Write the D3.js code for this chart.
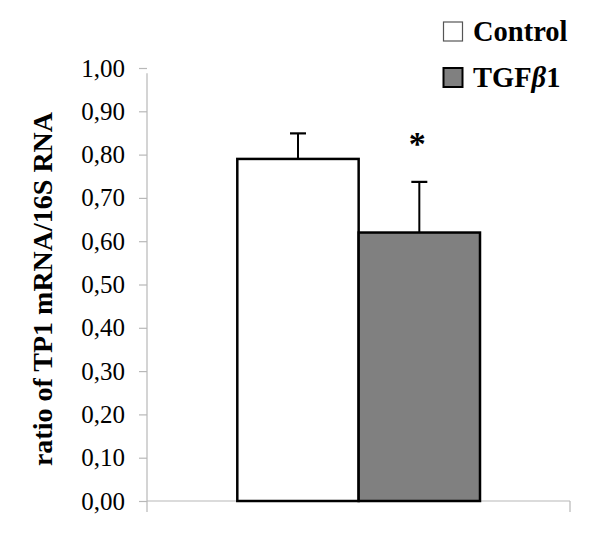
<!DOCTYPE html>
<html><head><meta charset="utf-8">
<script src="https://cdn.jsdelivr.net/npm/d3@7"></script>
<style>body{margin:0;background:#fff}svg{display:block}</style>
</head><body>
<svg id="c" width="600" height="544"></svg>
<script>
const categories = ["Control", "TGFβ1"];
const values = [0.79, 0.62];
const errorTops = [0.849, 0.737];
const colors = ["#ffffff", "#808080"];
const yTicks = [0,0.1,0.2,0.3,0.4,0.5,0.6,0.7,0.8,0.9,1.0];
const significant = [false, true];

const svg = d3.select("#c");
const font = "'Liberation Serif','Times New Roman',serif";
const y = d3.scaleLinear().domain([0,1]).range([501,68]);
const xAxisScale = d3.scaleLinear().domain([0,1]).range([147,570]);
const x = d3.scaleBand().domain(categories).range([237.3,480]).padding(0);
const axisColor = "#b8b8b8";

// y axis
const yAxis = d3.axisLeft(y).tickValues(yTicks).tickSize(8).tickPadding(14)
  .tickFormat(d => d3.format(".2f")(d).replace(".", ","));
const gy = svg.append("g").attr("transform","translate(147,0)").call(yAxis);
gy.select(".domain").remove();
gy.append("line").attr("x1",0).attr("x2",0).attr("y1",y(0.988)).attr("y2",y(0)).attr("stroke",axisColor).attr("stroke-width",1.2);
gy.selectAll(".tick line").attr("stroke",axisColor).attr("stroke-width",1.2);
gy.selectAll(".tick text").attr("fill","#000").style("font-family",font).style("font-size","25px");

// x axis
const gx = svg.append("g");
gx.append("line").attr("x1",xAxisScale(0)).attr("x2",xAxisScale(1)).attr("y1",y(0)).attr("y2",y(0)).attr("stroke",axisColor).attr("stroke-width",1.2);
gx.selectAll("line.t").data([0,1]).enter().append("line").attr("class","t")
  .attr("x1",d=>xAxisScale(d)).attr("x2",d=>xAxisScale(d)).attr("y1",y(0)).attr("y2",y(0)+11)
  .attr("stroke",axisColor).attr("stroke-width",1.2);

// error bars
const capW = 16;
const eb = svg.append("g");
categories.forEach((c,i)=>{
  const cx = x(c) + x.bandwidth()/2;
  eb.append("line").attr("x1",cx).attr("x2",cx).attr("y1",y(values[i])).attr("y2",y(errorTops[i])).attr("stroke","#000").attr("stroke-width",2);
  eb.append("line").attr("x1",cx-capW/2).attr("x2",cx+capW/2).attr("y1",y(errorTops[i])).attr("y2",y(errorTops[i])).attr("stroke","#000").attr("stroke-width",2.2);
  if (significant[i]) {
    eb.append("text").attr("x",cx-2).attr("y",y(errorTops[i])-27).attr("text-anchor","middle")
      .style("font-family",font).style("font-size","34px").style("font-weight","bold").text("*");
  }
});

// bars
svg.append("g").selectAll("rect").data(categories).enter().append("rect")
  .attr("x",d=>x(d)).attr("width",x.bandwidth())
  .attr("y",(d,i)=>y(values[i])).attr("height",(d,i)=>y(0)-y(values[i]))
  .attr("fill",(d,i)=>colors[i]).attr("stroke","#000").attr("stroke-width",2.5);

// y title
svg.append("text").attr("transform","translate(51.5,289) rotate(-90)").attr("text-anchor","middle")
  .style("font-family",font).style("font-size","28px").style("font-weight","bold")
  .text("ratio of TP1 mRNA/16S RNA");

// legend
const leg = svg.append("g");
categories.forEach((c,i)=>{
  const yy = 22 + i*46;
  leg.append("rect").attr("x",443.5).attr("y",yy).attr("width",19).attr("height",19)
    .attr("fill",colors[i]).attr("stroke", i===0 ? "#555" : "#000").attr("stroke-width", i===0?1.2:2);
  const t = leg.append("text").attr("x",473).attr("y",yy+18.5)
    .style("font-family",font).style("font-size","28.5px").style("font-weight","bold");
  if (c.includes("β")) {
    const parts = c.split("β");
    t.append("tspan").text(parts[0]);
    t.append("tspan").style("font-style","italic").text("β");
    t.append("tspan").text(parts[1]);
  } else t.text(c);
});
</script>
</body></html>
